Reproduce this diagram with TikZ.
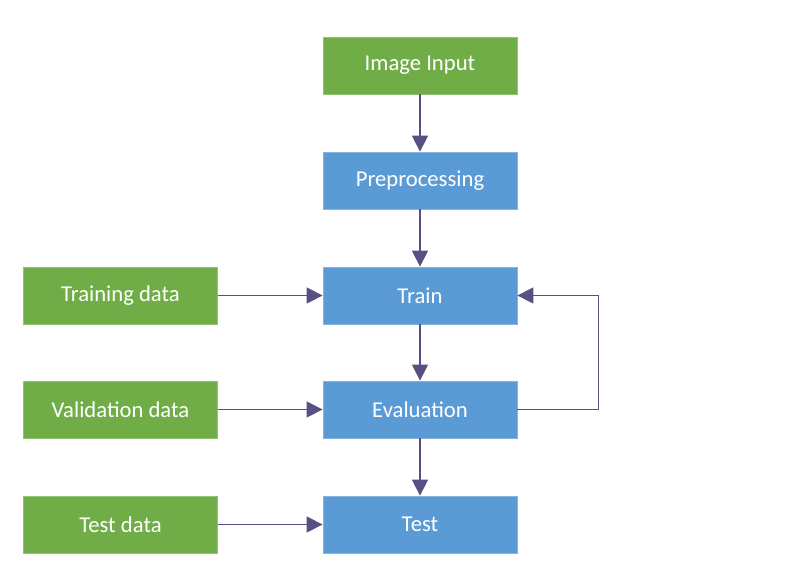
\documentclass[tikz,border=0pt]{standalone}
\usepackage{fontspec}
\setmainfont{Carlito}
\usetikzlibrary{arrows.meta, positioning}

\definecolor{boxgreen}{HTML}{70AD47}
\definecolor{boxblue}{HTML}{5B9BD5}
\definecolor{linkcol}{HTML}{594F82}

\begin{document}
\begin{tikzpicture}[
    x=0.75pt, y=-0.75pt,
    block/.style={rectangle, draw, line width=0.6pt, minimum width=145.5pt, minimum height=42.75pt, inner sep=0pt, text=white, font=\fontsize{17}{20}\selectfont, align=center},
    datablock/.style={block, fill=boxgreen, draw=boxgreen!75!white},
    stageblock/.style={block, fill=boxblue, draw=boxblue!75!white},
    link/.style={draw=linkcol, line width=1.1pt, -{Triangle[length=12pt, width=12pt]}}
]
    \useasboundingbox (0,0) rectangle (793,575);

    % Define nodes for the main pipeline
    \node[datablock] (input) at (420, 65.5) {Image Input};
    \node[stageblock] (prep) at (420, 180.5) {Preprocessing};
    \node[stageblock] (train) at (420, 295.5) {Train};
    \node[stageblock] (eval) at (420, 409.5) {Evaluation};
    \node[stageblock] (test) at (420, 524.5) {Test};

    % Data sources on the left
    \node[datablock] (traindata) at (120.5, 295.5) {Training data};
    \node[datablock] (valdata) at (120.5, 409.5) {Validation data};
    \node[datablock] (testdata) at (120.5, 524.5) {Test data};

    % Draw arrows down the pipeline
    \draw[link] (input) -- (prep);
    \draw[link] (prep) -- (train);
    \draw[link] (train) -- (eval);
    \draw[link] (eval) -- (test);

    % Draw arrows from the data sources
    \draw[link] (traindata) -- (train);
    \draw[link] (valdata) -- (eval);
    \draw[link] (testdata) -- (test);

    % Feedback loop from evaluation back to train
    \draw[link] (eval.east) -- ++(81,0) |- (train.east);

\end{tikzpicture}
\end{document}
